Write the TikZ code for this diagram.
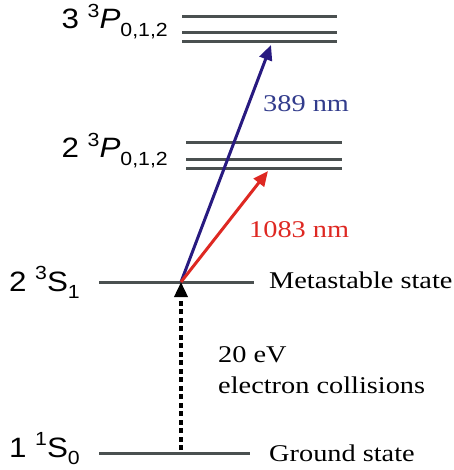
\documentclass[tikz,border=0pt]{standalone}
\usepackage{fontspec}
\setmainfont{Liberation Serif}
\newfontfamily\lvlfont{Liberation Sans}
\usetikzlibrary{arrows.meta}

\definecolor{lvlgray}{RGB}{74,80,80}
\definecolor{uvblue}{RGB}{40,26,128}
\definecolor{uvtext}{RGB}{50,60,140}
\definecolor{irred}{RGB}{222,40,34}

% term symbol n ^{2S+1}L_{J}
\newcommand{\term}[4]{{\lvlfont #1 \raisebox{0.42em}{\fontsize{19}{19}\selectfont #2}#3\raisebox{-0.28em}{\fontsize{19}{19}\selectfont #4}}}

\begin{document}
\begin{tikzpicture}[x=1pt,y=-1pt]
    \tikzset{level/.style = {draw=lvlgray,line width=3pt}}
    \tikzset{lbl/.style = {anchor=base east,inner sep=0pt,font=\fontsize{28}{28}\selectfont,xscale=1.12,transform shape}}
    \tikzset{note/.style = {anchor=base west,inner sep=0pt,font=\fontsize{24}{24}\selectfont,xscale=1.18,transform shape}}
    \tikzset{trans/.style = {line width=3pt,-{Triangle[length=15pt,width=13pt]}}}

    \useasboundingbox (0,0) rectangle (453,470);

    % levels
    \draw[level] (182,17) -- (337,17);
    \draw[level] (182,33) -- (337,33);
    \draw[level] (182,42) -- (337,42);

    \draw[level] (186,143) -- (342,143);
    \draw[level] (186,160) -- (342,160);
    \draw[level] (186,169) -- (342,169);

    \draw[level] (99,282) -- (254,282);
    \draw[level] (99,453) -- (250,453);

    % labels
    \node[lbl] (p3) at (168,29) {\term{3}{3}{\textit{P}}{0,1,2}};
    \node[lbl] (p2) at (168,158) {\term{2}{3}{\textit{P}}{0,1,2}};
    \node[lbl] (s2) at (80,291) {\term{2}{3}{S}{1}};
    \node[lbl] (s1) at (80,457) {\term{1}{1}{S}{0}};

    \node[note] (meta) at (269,288) {Metastable state};
    \node[note] (ground) at (269,461) {Ground state};

    % transitions
    \coordinate (start) at (181,282);
    \coordinate (ground0) at (181,450);
    \coordinate (top3) at (271,45);
    \coordinate (top2) at (268,171);

    \draw[trans,uvblue] (start) -- (top3);
    \draw[trans,irred] (start) -- (top2);
    \draw[trans,black,line width=3.5pt,dash pattern=on 5pt off 3.5pt] (ground0) -- (start);

    \node[note,text=uvtext] (uv) at (263,112) {389 nm};
    \node[note,text=irred] (ir) at (249,237) {1083 nm};
    \node[note] (ev) at (218,362) {20 eV};
    \node[note] (coll) at (218,393) {electron collisions};
\end{tikzpicture}
\end{document}
